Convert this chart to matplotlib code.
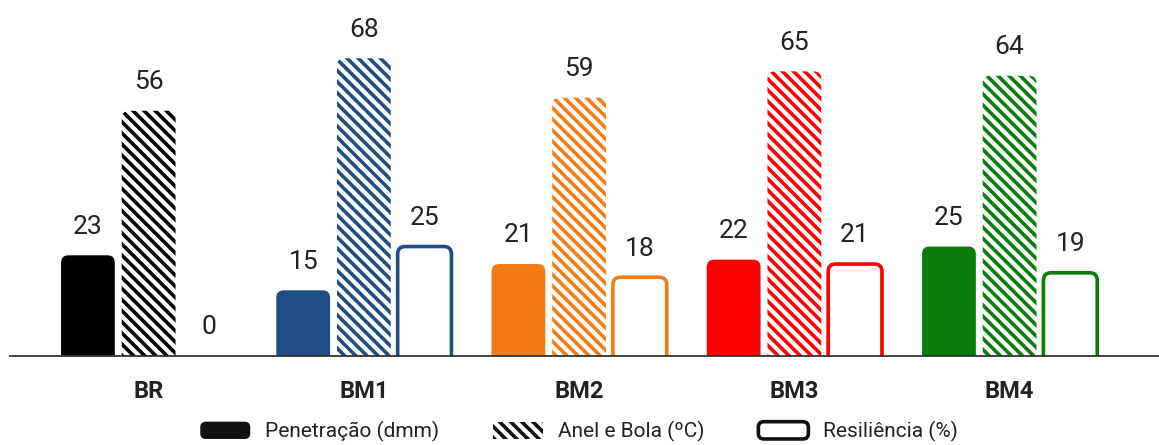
import numpy as np
import matplotlib.pyplot as plt
from matplotlib.patches import FancyBboxPatch, Patch
from matplotlib.legend_handler import HandlerPatch

plt.rcParams['font.family'] = ['Roboto', 'DejaVu Sans']
plt.rcParams['hatch.linewidth'] = 2.6

# data
grupos = ['BR', 'BM1', 'BM2', 'BM3', 'BM4']
penetracao = [23, 15, 21, 22, 25]
anel_bola = [56, 68, 59, 65, 64]
resiliencia = [0, 25, 18, 21, 19]
cores = ['#000000', '#1f4e85', '#f57c14', '#ff0000', '#0a7d0a']
legendas = ['Penetração (dmm)', 'Anel e Bola (ºC)', 'Resiliência (%)']

fig = plt.figure(figsize=(11.59, 4.45), dpi=100)
ax = fig.add_axes([10 / 1159, 89 / 445, 1149 / 1159, 356 / 445])

x = np.arange(len(grupos))
w = 0.25
step = 0.282

b1 = ax.bar(x - step, penetracao, w, color=cores, linewidth=0)
b2 = ax.bar(x, anel_bola, w, color='white', edgecolor=cores, hatch='\\\\\\', linewidth=0)
b3 = ax.bar(x + step, resiliencia, w, color='white', edgecolor=cores, linewidth=2.6)

ax.set_xlim(-0.644, 4.694)
ax.set_ylim(0, 81.3)

# rounded tops: replace the rectangles by rounded boxes of the same size
r = 0.035
asp = (216 / 4.38)
for bars in (b1, b2, b3):
    for p in bars.patches:
        bx, by = p.get_x(), p.get_y()
        bw, bh = p.get_width(), p.get_height()
        if bh <= 0:
            p.set_visible(False)
            continue
        fb = FancyBboxPatch((bx, by - 2), bw, bh + 2,
                            boxstyle='round,pad=0,rounding_size=%f' % r,
                            mutation_aspect=asp,
                            facecolor=p.get_facecolor(), edgecolor=p.get_edgecolor(),
                            linewidth=p.get_linewidth(), hatch=p.get_hatch(), zorder=2)
        ax.add_patch(fb)
        p.set_visible(False)

# value labels
for serie, dx in ((penetracao, -step), (anel_bola, 0), (resiliencia, step)):
    for i, v in enumerate(serie):
        ax.annotate(str(v), (x[i] + dx, v), xytext=(0, 12), textcoords='offset points',
                    ha='center', va='bottom', fontsize=19, color='#222222')

for s in ['top', 'right', 'left']:
    ax.spines[s].set_visible(False)
ax.spines['bottom'].set_color('#333333')
ax.spines['bottom'].set_linewidth(1.3)
ax.spines['bottom'].set_zorder(5)
ax.set_yticks([])
ax.set_xticks(x)
ax.set_xticklabels(grupos, fontsize=17, fontweight='bold', color='#222222')
ax.tick_params(axis='x', length=0, pad=17)


def rounded_handle(legend, orig_handle, xdescent, ydescent, width, height, fontsize):
    return FancyBboxPatch((-xdescent, -ydescent), width, height,
                          boxstyle='round,pad=0,rounding_size=4')


handles = [Patch(facecolor='#111111', edgecolor='#111111', linewidth=0),
           Patch(facecolor='white', edgecolor='#111111', hatch='\\\\\\', linewidth=0),
           Patch(facecolor='white', edgecolor='#111111', linewidth=2.6)]
hm = {h: HandlerPatch(patch_func=rounded_handle) for h in (handles[0], handles[2])}
leg = fig.legend(handles, legendas, loc='center', bbox_to_anchor=(0.4996, 0.03), ncol=3,
                 frameon=False, fontsize=15, handlelength=2.4, handleheight=0.9,
                 columnspacing=2.6, handletextpad=0.7, handler_map=hm)
for t in leg.get_texts():
    t.set_color('#222222')

fig.savefig('out.png', dpi=100)
